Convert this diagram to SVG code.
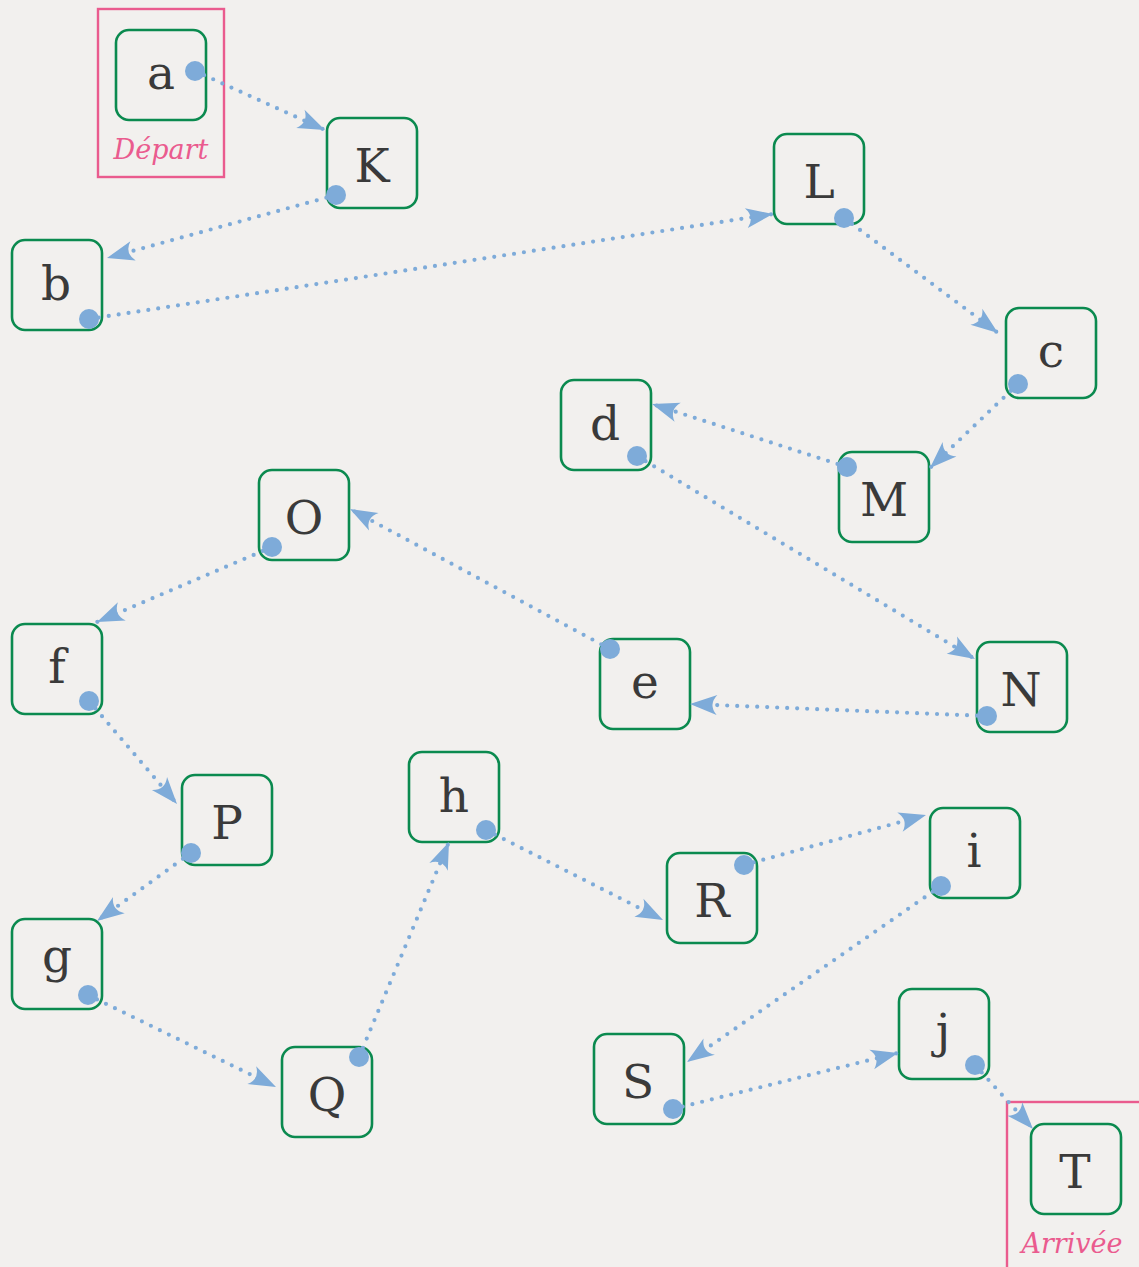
<svg xmlns="http://www.w3.org/2000/svg" width="1139" height="1267" viewBox="0 0 1139 1267">
<style>
.bg{fill:#f2f0ee}
.node rect{fill:none;stroke:#0b8a4f;stroke-width:2.6}
.node text{font-family:"DejaVu Serif","Liberation Serif",serif;font-size:47px;fill:#3a3a3a;text-anchor:middle}
.frame{fill:none;stroke:#ea5b8e;stroke-width:2.4}
.lbl{font-family:"DejaVu Serif","Liberation Serif",serif;font-style:italic;font-size:27px;fill:#ea5b8e;text-anchor:middle}
.edge{fill:none;stroke:#7eabd9;stroke-width:4.2;stroke-linecap:round;stroke-dasharray:0 10;marker-end:url(#ah)}
.dot{fill:#7eabd9}
</style>
<defs>
<marker id="ah" viewBox="-30 -12 32 24" refX="0" refY="0" markerWidth="32" markerHeight="24" markerUnits="userSpaceOnUse" orient="auto">
<path d="M0,0 L-27,-10 Q-18,0 -27,10 Z" fill="#7eabd9"/>
</marker>
</defs>
<rect class="bg" x="0" y="0" width="1139" height="1267"/>
<g id="frames">
<rect class="frame" x="98" y="9" width="126" height="168"/>
<text class="lbl" x="161" y="159">Départ</text>
<rect class="frame" x="1007" y="1102" width="150" height="190"/>
<text class="lbl" x="1072" y="1253">Arrivée</text>
</g>
<g id="node-a" class="node"><rect x="116" y="30" width="90" height="90" rx="13"/><text x="161" y="89">a</text></g>
<g id="node-K" class="node"><rect x="327" y="118" width="90" height="90" rx="13"/><text x="372" y="182">K</text></g>
<g id="node-L" class="node"><rect x="774" y="134" width="90" height="90" rx="13"/><text x="819" y="198">L</text></g>
<g id="node-b" class="node"><rect x="12" y="240" width="90" height="90" rx="13"/><text x="56" y="300">b</text></g>
<g id="node-c" class="node"><rect x="1006" y="308" width="90" height="90" rx="13"/><text x="1051" y="367">c</text></g>
<g id="node-d" class="node"><rect x="561" y="380" width="90" height="90" rx="13"/><text x="605" y="440">d</text></g>
<g id="node-M" class="node"><rect x="839" y="452" width="90" height="90" rx="13"/><text x="884" y="516">M</text></g>
<g id="node-O" class="node"><rect x="259" y="470" width="90" height="90" rx="13"/><text x="304" y="534">O</text></g>
<g id="node-e" class="node"><rect x="600" y="639" width="90" height="90" rx="13"/><text x="645" y="698">e</text></g>
<g id="node-N" class="node"><rect x="977" y="642" width="90" height="90" rx="13"/><text x="1021" y="706">N</text></g>
<g id="node-f" class="node"><rect x="12" y="624" width="90" height="90" rx="13"/><text x="57" y="683">f</text></g>
<g id="node-P" class="node"><rect x="182" y="775" width="90" height="90" rx="13"/><text x="227" y="839">P</text></g>
<g id="node-h" class="node"><rect x="409" y="752" width="90" height="90" rx="13"/><text x="454" y="812">h</text></g>
<g id="node-R" class="node"><rect x="667" y="853" width="90" height="90" rx="13"/><text x="712" y="917">R</text></g>
<g id="node-i" class="node"><rect x="930" y="808" width="90" height="90" rx="13"/><text x="974" y="867">i</text></g>
<g id="node-g" class="node"><rect x="12" y="919" width="90" height="90" rx="13"/><text x="57" y="972">g</text></g>
<g id="node-Q" class="node"><rect x="282" y="1047" width="90" height="90" rx="13"/><text x="327" y="1111">Q</text></g>
<g id="node-S" class="node"><rect x="594" y="1034" width="90" height="90" rx="13"/><text x="638" y="1098">S</text></g>
<g id="node-j" class="node"><rect x="899" y="989" width="90" height="90" rx="13"/><text x="943" y="1047">j</text></g>
<g id="node-T" class="node"><rect x="1031" y="1124" width="90" height="90" rx="13"/><text x="1075" y="1188">T</text></g>
<g id="connectors">
<path class="edge" d="M195,71 L325,130"/>
<path class="edge" d="M336,195 L107,258"/>
<path class="edge" d="M89,319 L773,214"/>
<path class="edge" d="M844,218 L998,333"/>
<path class="edge" d="M1018,384 L930,468"/>
<path class="edge" d="M847,467 L652,404"/>
<path class="edge" d="M637,456 L975,659"/>
<path class="edge" d="M987,716 L690,704"/>
<path class="edge" d="M610,649 L350,509"/>
<path class="edge" d="M272,547 L97,622"/>
<path class="edge" d="M89,701 L177,804"/>
<path class="edge" d="M191,853 L97,921"/>
<path class="edge" d="M88,995 L276,1087"/>
<path class="edge" d="M359,1057 L449,842"/>
<path class="edge" d="M486,830 L663,920"/>
<path class="edge" d="M744,865 L926,815"/>
<path class="edge" d="M941,886 L687,1062"/>
<path class="edge" d="M673,1109 L898,1053"/>
<path class="edge" d="M975,1065 L1033,1129"/>
<circle class="dot" cx="195" cy="71" r="10"/>
<circle class="dot" cx="336" cy="195" r="10"/>
<circle class="dot" cx="89" cy="319" r="10"/>
<circle class="dot" cx="844" cy="218" r="10"/>
<circle class="dot" cx="1018" cy="384" r="10"/>
<circle class="dot" cx="847" cy="467" r="10"/>
<circle class="dot" cx="637" cy="456" r="10"/>
<circle class="dot" cx="987" cy="716" r="10"/>
<circle class="dot" cx="610" cy="649" r="10"/>
<circle class="dot" cx="272" cy="547" r="10"/>
<circle class="dot" cx="89" cy="701" r="10"/>
<circle class="dot" cx="191" cy="853" r="10"/>
<circle class="dot" cx="88" cy="995" r="10"/>
<circle class="dot" cx="359" cy="1057" r="10"/>
<circle class="dot" cx="486" cy="830" r="10"/>
<circle class="dot" cx="744" cy="865" r="10"/>
<circle class="dot" cx="941" cy="886" r="10"/>
<circle class="dot" cx="673" cy="1109" r="10"/>
<circle class="dot" cx="975" cy="1065" r="10"/>
</g>
</svg>
